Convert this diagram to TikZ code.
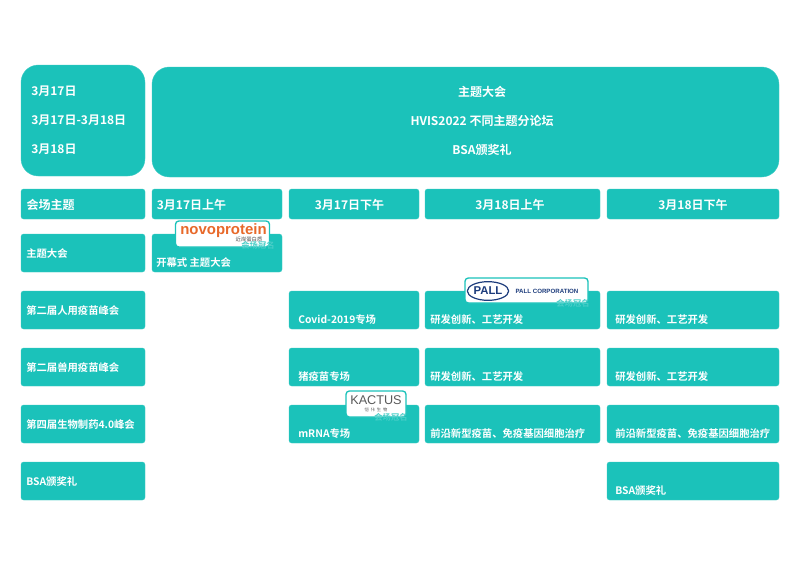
\documentclass[tikz,border=0pt]{standalone}
\usepackage{fontspec}
\usepackage{xcolor}
\setmainfont{Noto Sans CJK SC}[BoldFont={Noto Sans CJK SC Bold}]
\newfontfamily\logofont{Liberation Sans}
\usetikzlibrary{shapes.geometric}
\definecolor{hvisteal}{HTML}{1BC2BA}
\definecolor{novoorange}{HTML}{E8692A}
\definecolor{pallblue}{HTML}{1D3C7C}
\tikzset{
  cardbox/.style={fill=hvisteal,draw=hvisteal!85!white,line width=0.3pt,rounded corners=2pt,inner sep=0pt},
  cardtext/.style={text=white,font=\bfseries\fontsize{7.75}{10}\selectfont,anchor=west,inner sep=0pt},
  headtext/.style={text=white,font=\bfseries\fontsize{9}{11}\selectfont,inner sep=0pt},
  logobox/.style={fill=white,draw=hvisteal,line width=1pt,rounded corners=2.5pt,inner sep=0pt},
  sponsortext/.style={text=hvisteal!80!white,font=\bfseries\fontsize{6.2}{8}\selectfont,inner sep=0pt}
}
\begin{document}
\begin{tikzpicture}[x=0.75pt,y=-0.75pt]
  \useasboundingbox [fill=white] (0,0) rectangle (800,565);
  % top panels
  \node [cardbox,rounded corners=13pt,minimum width=93pt,minimum height=83.25pt] (datepanel) at (83,120.5) {};
  \node [cardbox,rounded corners=13pt,minimum width=470.25pt,minimum height=82.5pt] (themepanel) at (465.5,122) {};
  \foreach \name/\y/\txt in {dateone/91/3月17日,datetwo/120.5/3月17日-3月18日,datethree/149.5/3月18日}
    \node [headtext,anchor=west] (\name) at (31,\y) {\txt};
  \foreach \name/\y/\txt in {themeone/91.5/主题大会,themetwo/121/HVIS2022 不同主题分论坛,themethree/150/BSA颁奖礼}
    \node [headtext] (\name) at (482,\y) {\txt};
  % header row
  \foreach \name/\x/\w/\tx/\txt in {headzero/83/124/50.5/会场主题,headone/217/130/191.5/3月17日上午,headtwo/354/130/349.5/3月17日下午,headthree/512.5/175/510/3月18日上午,headfour/693/172/693/3月18日下午} {
    \node [cardbox,minimum width=\w*0.75pt,minimum height=22.5pt] (\name) at (\x,204) {};
    \node [headtext] (\name text) at (\tx,204.5) {\txt};
  }
  % left column
  \foreach \name/\y/\txt in {rowmain/253/主题大会,rowhuman/310/第二届人用疫苗峰会,rowvet/367/第二届兽用疫苗峰会,rowbio/424/第四届生物制药4.0峰会,rowbsa/481/BSA颁奖礼} {
    \node [cardbox,minimum width=93pt,minimum height=28.5pt] (\name) at (83,\y) {};
    \node [cardtext] (\name text) at (26,\y+0.5) {\txt};
  }
  % sessions
  \foreach \name/\x/\w/\y/\tx/\txt in {
      mainam/217/130/253/156/开幕式 主题大会,
      humanpm/354/130/310/298/Covid-2019专场,
      humanam/512.5/175/310/430/研发创新、工艺开发,
      humanlast/693/172/310/615/研发创新、工艺开发,
      vetpm/354/130/367/298/猪疫苗专场,
      vetam/512.5/175/367/430/研发创新、工艺开发,
      vetlast/693/172/367/615/研发创新、工艺开发,
      biopm/354/130/424/298/mRNA专场,
      bioam/512.5/175/424/430/前沿新型疫苗、免疫基因细胞治疗,
      biolast/693/172/424/615/前沿新型疫苗、免疫基因细胞治疗,
      bsalast/693/172/481/615/BSA颁奖礼} {
    \node [cardbox,minimum width=\w*0.75pt,minimum height=28.5pt] (\name) at (\x,\y) {};
    \node [cardtext] (\name text) at (\tx,\y+9.5) {\txt};
  }
  % sponsor logos
  \node [logobox,minimum width=70.5pt,minimum height=19.5pt] (novobox) at (222.5,234) {};
  \node [text=novoorange,inner sep=0pt,font=\logofont\bfseries\fontsize{11.2}{12}\selectfont] (novologo) at (223.5,231) {novoprotein};
  \node [inner sep=0pt,text=black!70,font=\fontsize{4}{5}\selectfont] (novocn) at (249,239.5) {近岸蛋白质};
  \node [sponsortext] (novotag) at (258,245.5) {会场冠名};
  \node [logobox,minimum width=92.25pt,minimum height=18.75pt] (pallbox) at (526.5,290.5) {};
  \node [ellipse,draw=pallblue,line width=0.9pt,text=pallblue,inner sep=0pt,minimum width=31pt,minimum height=14pt,font=\logofont\bfseries\fontsize{8.5}{9}\selectfont] (palllogo) at (488,291) {PALL};
  \node [text=pallblue,inner sep=0pt,font=\logofont\bfseries\fontsize{4.6}{5}\selectfont] (pallname) at (547,291) {PALL CORPORATION};
  \node [sponsortext] (palltag) at (573,303) {会场冠名};
  \node [logobox,minimum width=45pt,minimum height=19.5pt] (kactusbox) at (376,404) {};
  \node [text=black!65,inner sep=0pt,font=\logofont\fontsize{9.5}{10}\selectfont] (kactuslogo) at (376,400.5) {KACTUS};
  \node [inner sep=0pt,text=black!65,font=\fontsize{3.2}{4}\selectfont] (kactuscn) at (376,409.5) {恺\ \ 佧\ \ 生\ \ 物};
  \node [sponsortext] (kactustag) at (391,417) {会场冠名};
\end{tikzpicture}
\end{document}
